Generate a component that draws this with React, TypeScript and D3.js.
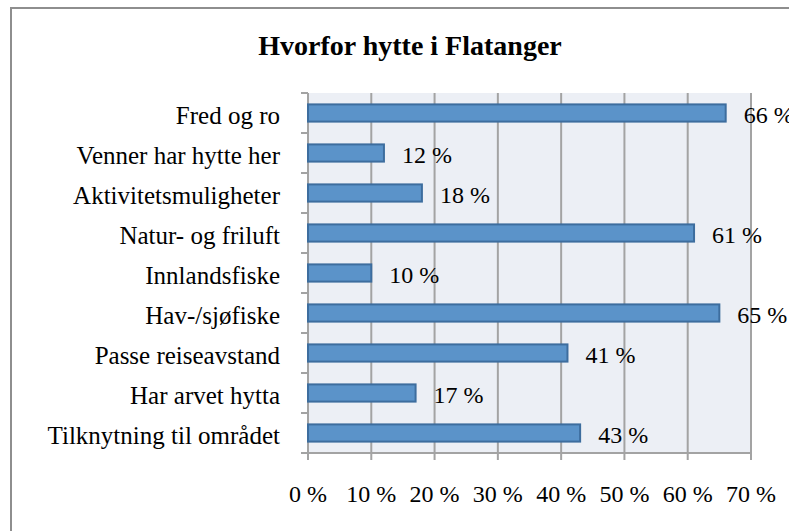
import { useEffect, useRef } from 'react'
import * as d3 from 'd3'

const categories = [
  'Fred og ro',
  'Venner har hytte her',
  'Aktivitetsmuligheter',
  'Natur- og friluft',
  'Innlandsfiske',
  'Hav-/sjøfiske',
  'Passe reiseavstand',
  'Har arvet hytta',
  'Tilknytning til området',
]
const values = [66, 12, 18, 61, 10, 65, 41, 17, 43]
const xTicks = [0, 10, 20, 30, 40, 50, 60, 70]
const title = 'Hvorfor hytte i Flatanger'

const FONT = '"Liberation Serif", serif'

export default function App() {
  const svgRef = useRef<SVGSVGElement>(null)

  useEffect(() => {
    if (!svgRef.current) return
    const svg = d3.select(svgRef.current)
    svg.selectAll('*').remove()

    const width = 789
    const height = 531
    const margin = { top: 93, left: 308 }
    const plotW = 443
    const plotH = 360

    svg.attr('width', width).attr('height', height)

    // chart border (runs off the right and bottom edges)
    svg
      .append('rect')
      .attr('x', 11)
      .attr('y', 8)
      .attr('width', 900)
      .attr('height', 700)
      .attr('fill', '#fff')
      .attr('stroke', '#8e8e8e')
      .attr('stroke-width', 2)

    svg
      .append('text')
      .attr('x', 410)
      .attr('y', 55)
      .attr('text-anchor', 'middle')
      .style('font-family', FONT)
      .style('font-weight', 'bold')
      .style('font-size', '28px')
      .text(title)

    const g = svg.append('g').attr('transform', `translate(${margin.left},${margin.top})`)

    const x = d3.scaleLinear().domain([0, 70]).range([0, plotW])
    const y = d3.scaleBand().domain(categories).range([0, plotH]).paddingInner(0.57).paddingOuter(0.285)
    const yb = d3.scaleBand().domain(categories).range([0, plotH])

    g.append('rect').attr('width', plotW).attr('height', plotH).attr('fill', '#eceff5')

    // vertical gridlines
    g.selectAll('.grid')
      .data(xTicks.slice(1))
      .enter()
      .append('line')
      .attr('x1', (d) => x(d))
      .attr('x2', (d) => x(d))
      .attr('y1', 0)
      .attr('y2', plotH + 7)
      .attr('stroke', '#a3a3a3')
      .attr('stroke-width', 2)

    // left axis with category boundary ticks
    g.append('line')
      .attr('x1', 0)
      .attr('x2', 0)
      .attr('y1', 0)
      .attr('y2', plotH + 7)
      .attr('stroke', '#a3a3a3')
      .attr('stroke-width', 2)
    const bounds = categories.map((c) => yb(c) as number).concat([plotH])
    g.selectAll('.ytick')
      .data(bounds)
      .enter()
      .append('line')
      .attr('x1', -7)
      .attr('x2', 0)
      .attr('y1', (d) => d)
      .attr('y2', (d) => d)
      .attr('stroke', '#a3a3a3')
      .attr('stroke-width', 2)

    // bottom axis
    g.append('line')
      .attr('x1', -7)
      .attr('x2', plotW + 1)
      .attr('y1', plotH)
      .attr('y2', plotH)
      .attr('stroke', '#a3a3a3')
      .attr('stroke-width', 2)

    g.selectAll('.xlabel')
      .data(xTicks)
      .enter()
      .append('text')
      .attr('x', (d) => x(d))
      .attr('y', plotH + 49)
      .attr('text-anchor', 'middle')
      .style('font-family', FONT)
      .style('font-size', '24px')
      .text((d) => `${d}\u00a0%`)

    g.selectAll('.ylabel')
      .data(categories)
      .enter()
      .append('text')
      .attr('x', -28)
      .attr('y', (d) => (yb(d) as number) + yb.bandwidth() / 2)
      .attr('dy', '0.45em')
      .attr('text-anchor', 'end')
      .style('font-family', FONT)
      .style('font-size', '25px')
      .text((d) => d)

    g.selectAll('.bar')
      .data(values)
      .enter()
      .append('rect')
      .attr('x', 0)
      .attr('y', (d, i) => y(categories[i]) as number)
      .attr('width', (d) => x(d))
      .attr('height', y.bandwidth())
      .attr('fill', '#5b93c9')
      .attr('stroke', '#3d6d9e')
      .attr('stroke-width', 2)

    g.selectAll('.value')
      .data(values)
      .enter()
      .append('text')
      .attr('x', (d) => x(d) + 18)
      .attr('y', (d, i) => (yb(categories[i]) as number) + yb.bandwidth() / 2)
      .attr('dy', '0.42em')
      .style('font-family', FONT)
      .style('font-size', '24px')
      .text((d) => `${d}\u00a0%`)
  }, [])

  return (
    <div style={{ position: 'absolute', left: 0, top: 0, width: 789, height: 531, overflow: 'hidden' }}>
      <svg ref={svgRef} style={{ display: 'block' }}></svg>
    </div>
  )
}
